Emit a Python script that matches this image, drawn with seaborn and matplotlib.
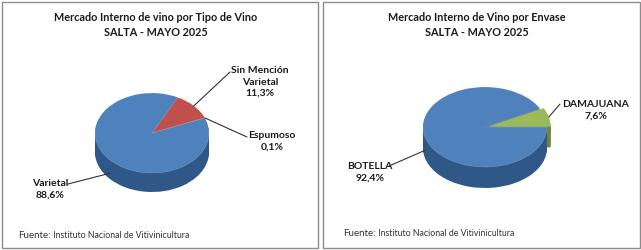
import numpy as np
import matplotlib
matplotlib.use("Agg")
import matplotlib.pyplot as plt
from matplotlib.patches import Rectangle
import seaborn as sns

# ---- data ----
tipo_labels = ["Espumoso", "Sin Mención\nVarietal", "Varietal"]
tipo_values = [0.1, 11.3, 88.6]
envase_labels = ["DAMAJUANA", "BOTELLA"]
envase_values = [7.6, 92.4]

title_left = "Mercado Interno de vino por Tipo de Vino\nSALTA - MAYO 2025"
title_right = "Mercado Interno de Vino por Envase\nSALTA - MAYO 2025"
source_head = "Fuente:"
source_body = " Instituto Nacional de Vitivinicultura"

sns.set_theme(style="white")
plt.rcParams["font.family"] = ["Lato", "DejaVu Sans"]

W, H = 641, 250
fig = plt.figure(figsize=(W / 100, H / 100), dpi=100)
fig.patch.set_facecolor("white")

def fx(px):
    return px / W

def fy(py):
    return 1 - py / H

# panel borders
for x0, x1 in [(1.5, 317.5), (322.5, 639.5)]:
    fig.add_artist(Rectangle((fx(x0), fy(247.5)), fx(x1 - x0), (247.5 - 1.5) / H,
                             transform=fig.transFigure, fill=False,
                             edgecolor="#8c8c8c", linewidth=1.0))

def pie3d(cx, cy, rx, ry, depth, values, colors, dark, startangle, explode):
    d = depth / ry
    ax = fig.add_axes([fx(cx - rx * 1.2), fy(cy + ry * 1.2 + depth),
                       fx(2.4 * rx), (2.4 * ry + depth) / H])
    n = 16
    for t in np.linspace(d, 0, n, endpoint=False):
        ax.pie(values, colors=dark, startangle=startangle, counterclock=True,
               center=(0, -t), radius=1, explode=explode,
               wedgeprops=dict(linewidth=0))
    wedges, _ = ax.pie(values, colors=colors, startangle=startangle,
                       counterclock=True, center=(0, 0), radius=1,
                       explode=explode,
                       wedgeprops=dict(linewidth=0.4, edgecolor="#ffffff40"))
    ax.set_aspect("auto")
    ax.set_xlim(-1.2, 1.2)
    ax.set_ylim(-1.2 - d, 1.2)
    ax.axis("off")
    return ax, wedges

def anchor(wedge, ydrop=0.0):
    th = np.deg2rad((wedge.theta1 + wedge.theta2) / 2)
    cx, cy = wedge.center
    return (cx + np.cos(th), cy + np.sin(th) - ydrop)

lab_kw = dict(fontsize=7.5, fontweight="bold", color="#1a1a1a",
              ha="center", va="center", linespacing=1.35)
arrow_kw = dict(arrowstyle="-", color="#333333", lw=0.8,
                shrinkA=0, shrinkB=0)

def leader(ax, xy, end):
    ax.annotate("", xy=xy, xycoords="data",
                xytext=(fx(end[0]), fy(end[1])), textcoords="figure fraction",
                arrowprops=arrow_kw)

def label(text, pos):
    fig.text(fx(pos[0]), fy(pos[1]), text, **lab_kw)

# ---- left pie ----
axL, wL = pie3d(152, 133, 57, 40, 19, tipo_values,
                ["#9BBB59", "#C0504D", "#4F81BD"],
                ["#6b8638", "#8d3331", "#2f5788"], 22, [0, 0, 0])
pcts_L = [f"{v:.1f}%".replace(".", ",") for v in tipo_values]
leader(axL, anchor(wL[1]), (230, 72))
label(tipo_labels[1] + "\n" + pcts_L[1], (260, 82))
leader(axL, anchor(wL[0]), (247, 137))
label(tipo_labels[0] + "\n" + pcts_L[0], (272, 141))
leader(axL, anchor(wL[2], 0.33), (68, 184))
label(tipo_labels[2] + "\n" + pcts_L[2], (50, 189))

# ---- right pie ----
axR, wR = pie3d(485, 127, 62, 40, 21, envase_values,
                ["#9BBB59", "#4F81BD"],
                ["#6b8638", "#2f5788"], 0, [0.06, 0])
pcts_R = [f"{v:.1f}%".replace(".", ",") for v in envase_values]
leader(axR, anchor(wR[0]), (560, 104))
label(envase_labels[0] + "\n" + pcts_R[0], (596, 110))
leader(axR, anchor(wR[1], 0.35), (389, 166))
label(envase_labels[1] + "\n" + pcts_R[1], (370, 172))

# ---- titles ----
fig.text(fx(156), fy(25), title_left, ha="center", va="center",
         fontsize=7.8, fontweight="bold", color="#1a1a1a", linespacing=1.5)
fig.text(fx(477), fy(25), title_right, ha="center", va="center",
         fontsize=7.8, fontweight="bold", color="#1a1a1a", linespacing=1.5)

# ---- source ----
for x0, y0 in [(18, 236), (343, 233)]:
    t = fig.text(fx(x0), fy(y0), source_head, ha="left", va="center",
                 fontsize=7, color="#333333")
    fig.canvas.draw()
    bb = t.get_window_extent()
    fig.text(bb.x1 / W, fy(y0), source_body, ha="left", va="center",
             fontsize=6.3, color="#333333")

fig.savefig("out.png", dpi=100, facecolor="white")
